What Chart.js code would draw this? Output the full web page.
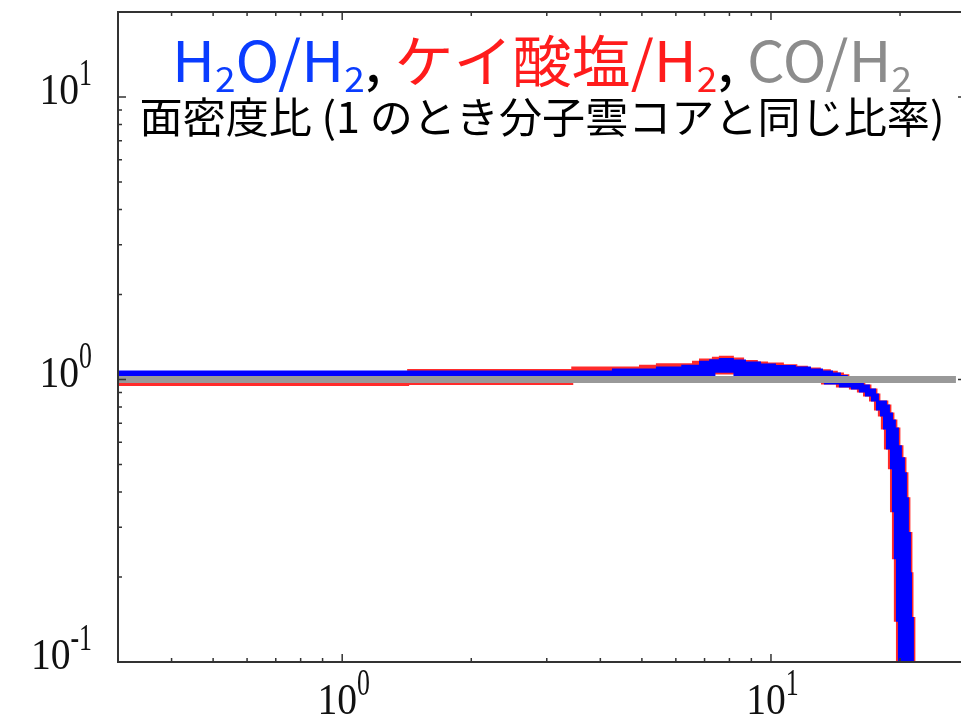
<!DOCTYPE html>
<html>
<head>
<meta charset="utf-8">
<script src="https://cdn.jsdelivr.net/npm/chart.js@4.4.1/dist/chart.umd.min.js"></script>
<style>
html, body { margin: 0; padding: 0; background: #fff; overflow: hidden; }
#wrap { position: relative; width: 968px; height: 718px; }
</style>
</head>
<body>
<div id="wrap"><canvas id="chart"></canvas></div>
<script>
// tick positions
const xMajorTicks = [1, 10];
const xMinorTicks = [0.3, 0.4, 0.5, 0.6, 0.7, 0.8, 0.9, 2, 3, 4, 5, 6, 7, 8, 9, 20];
const yMajorTicks = [0.1, 1, 10];
const yMinorTicks = [0.2, 0.3, 0.4, 0.5, 0.6, 0.7, 0.8, 0.9, 2, 3, 4, 5, 6, 7, 8, 9];

// title text
const titleParts = [
    ['H', 'h2o'], ['2', 'h2o', true], ['O/H', 'h2o'], ['2', 'h2o', true], [', ', 'ink'],
    ['ケイ酸塩/H', 'sil'], ['2', 'sil', true], [', ', 'ink'],
    ['CO/H', 'co'], ['2', 'co', true]
];
const subtitle = '面密度比 (1 のとき分子雲コアと同じ比率)';

// H2O/H2 band: upper and lower envelope (step values)
const h2oHiX = [0.29, 4.28, 5.42, 6.21, 6.83, 7.21, 7.60, 8.15, 8.70, 9.43, 10.22, 11.37, 12.33, 13.15, 13.88, 14.48, 15.03, 15.70, 16.38, 16.92, 17.48, 17.76, 18.54, 18.84, 19.15, 19.45, 19.77, 20.09, 20.42, 20.64, 20.86, 21.09, 21.21, 21.43];
const h2oHiY = [1.067, 1.085, 1.102, 1.118, 1.155, 1.170, 1.181, 1.167, 1.148, 1.130, 1.116, 1.102, 1.085, 1.067, 1.050, 1.029, 1.000, 0.976, 0.952, 0.922, 0.885, 0.836, 0.809, 0.758, 0.716, 0.671, 0.580, 0.526, 0.466, 0.380, 0.286, 0.206, 0.143, 0.05];
const h2oLoX = [0.29, 7.38, 8.22, 12.67, 13.36, 14.48, 15.45, 16.12, 16.65, 17.20, 17.67, 18.05, 18.35, 18.64, 19.05, 19.25, 19.45, 19.67, 19.88, 21.43];
const h2oLoY = [1.02, 1.065, 1.02, 0.984, 0.968, 0.945, 0.929, 0.907, 0.878, 0.843, 0.783, 0.746, 0.671, 0.570, 0.485, 0.342, 0.233, 0.140, 0.05, 0.05];

// silicate/H2 band
const silHiX = [0.29, 1.425, 3.44, 4.95, 5.42, 6.58, 6.83, 7.32, 7.60, 8.15, 8.61, 9.27, 9.79, 10.66, 11.46, 12.13, 13.0, 13.72, 14.24, 14.72, 15.15, 15.82, 16.51, 17.06, 17.62, 17.90, 18.68, 18.99, 19.30, 19.61, 19.93, 20.26, 20.59, 20.81, 21.03, 21.26, 21.38, 21.60];
const silHiY = [1.06, 1.08, 1.102, 1.118, 1.132, 1.155, 1.177, 1.193, 1.203, 1.186, 1.164, 1.148, 1.139, 1.123, 1.109, 1.094, 1.079, 1.065, 1.050, 1.036, 1.0, 0.976, 0.952, 0.922, 0.885, 0.836, 0.809, 0.758, 0.716, 0.671, 0.580, 0.526, 0.466, 0.380, 0.286, 0.206, 0.143, 0.05];
const silLoX = [0.29, 1.425, 3.44, 7.29, 8.34, 12.46, 13.15, 14.25, 15.28, 15.95, 16.48, 17.02, 17.48, 17.85, 18.14, 18.44, 18.84, 19.05, 19.25, 19.45, 19.67, 21.60];
const silLoY = [0.956, 0.964, 0.99, 1.05, 0.99, 0.984, 0.968, 0.945, 0.929, 0.907, 0.878, 0.843, 0.783, 0.746, 0.671, 0.570, 0.485, 0.342, 0.233, 0.140, 0.05, 0.05];

// CO/H2
const coX = [0.29, 27.0];
const coY = [1.0, 1.0];

const colors = { h2o: '#0000ff', sil: '#ff2b2b', co: '#999999', ink: '#000000' };
const textColors = { h2o: '#0a3cff', sil: '#ff1c1c', co: '#8c8c8c', ink: '#000000' };

const pts = (xs, ys) => xs.map((x, i) => ({ x, y: ys[i] }));

function band(data, color, width, fill) {
    return {
        data,
        borderColor: color,
        backgroundColor: color,
        borderWidth: width,
        stepped: 'before',
        pointRadius: 0,
        fill: fill
    };
}

function powerLabel(ctx, exp, anchorX, baseline, align) {
    const mainFont = '44px "Liberation Serif"';
    const supFont = '38px "Liberation Serif"';
    ctx.font = mainFont;
    const wm = ctx.measureText('10').width * 0.9;
    ctx.font = supFont;
    const ws = ctx.measureText(exp).width * 0.68;
    const left = align === 'center' ? anchorX - (wm + ws) / 2 : anchorX - wm - ws;
    ctx.save();
    ctx.translate(left, baseline);
    ctx.scale(0.9, 1);
    ctx.font = mainFont;
    ctx.fillText('10', 0, 0);
    ctx.restore();
    ctx.save();
    ctx.translate(left + wm, baseline - 19);
    ctx.scale(0.68, 1);
    ctx.font = supFont;
    ctx.fillText(exp, 0, 0);
    ctx.restore();
}

// draw a text run squeezed/stretched to a given width, centred on cx
function fitText(ctx, cx, width, draw, measure) {
    const natural = measure();
    ctx.save();
    ctx.translate(cx - width / 2, 0);
    ctx.scale(width / natural, 1);
    draw();
    ctx.restore();
}

const framePlugin = {
    id: 'frame',
    afterDraw(chart) {
        const { ctx, chartArea: a } = chart;
        const xs = chart.scales.x, ys = chart.scales.y;
        ctx.save();
        ctx.strokeStyle = '#333';
        ctx.lineWidth = 2;
        ctx.strokeRect(a.left, a.top, a.right - a.left, a.bottom - a.top);

        ctx.lineWidth = 1.5;
        ctx.beginPath();
        xs.ticks.forEach(t => {
            const px = xs.getPixelForValue(t.value);
            const len = t.major ? 8 : 4;
            ctx.moveTo(px, a.bottom); ctx.lineTo(px, a.bottom - len);
            ctx.moveTo(px, a.top); ctx.lineTo(px, a.top + len);
        });
        ys.ticks.forEach(t => {
            const py = ys.getPixelForValue(t.value);
            const len = t.major ? 8 : 4;
            ctx.moveTo(a.left, py); ctx.lineTo(a.left + len, py);
            ctx.moveTo(a.right, py); ctx.lineTo(a.right - len, py);
        });
        ctx.stroke();

        ctx.fillStyle = '#111';
        ctx.textBaseline = 'alphabetic';
        ctx.textAlign = 'left';
        xs.ticks.filter(t => t.major).forEach(t => {
            const exp = String(Math.round(Math.log10(t.value)));
            powerLabel(ctx, exp, xs.getPixelForValue(t.value) + 1.5, 714, 'center');
        });
        ys.ticks.filter(t => t.major).forEach(t => {
            const exp = String(Math.round(Math.log10(t.value)));
            powerLabel(ctx, exp, 92, ys.getPixelForValue(t.value) + 7, 'right');
        });

        // title, two lines, centred over the plot
        const cx = (a.left + a.right) / 2;
        const mainFont = '56px "Noto Sans CJK JP"';
        const subFont = '35px "Noto Sans CJK JP"';
        const partWidth = p => { ctx.font = p[2] ? subFont : mainFont; return ctx.measureText(p[0]).width; };
        fitText(ctx, cx, 740, () => {
            let x = 0;
            titleParts.forEach(p => {
                ctx.font = p[2] ? subFont : mainFont;
                ctx.fillStyle = textColors[p[1]];
                ctx.fillText(p[0], x, p[2] ? 92 : 82);
                x += ctx.measureText(p[0]).width;
            });
        }, () => titleParts.reduce((s, p) => s + partWidth(p), 0));

        ctx.font = '42px "Noto Sans CJK JP"';
        ctx.fillStyle = '#000';
        fitText(ctx, cx, 805, () => ctx.fillText(subtitle, 0, 133),
            () => ctx.measureText(subtitle).width);
        ctx.restore();
    }
};

new Chart(document.getElementById('chart'), {
    type: 'line',
    data: {
        datasets: [
            { data: pts(coX, coY), borderColor: colors.co, borderWidth: 7, pointRadius: 0, fill: false },
            band(pts(h2oHiX, h2oHiY), colors.h2o, 2, '+1'),
            band(pts(h2oLoX, h2oLoY), colors.h2o, 2, false),
            band(pts(silHiX, silHiY), colors.sil, 2, '+1'),
            band(pts(silLoX, silLoY), colors.sil, 2, false)
        ]
    },
    options: {
        responsive: true,
        maintainAspectRatio: false,
        animation: false,
        layout: { padding: { top: 12, right: 2, left: 0, bottom: 0 } },
        plugins: { legend: { display: false }, tooltip: { enabled: false } },
        scales: {
            x: {
                type: 'logarithmic',
                min: 0.3,
                max: 28.5,
                grid: { display: false },
                border: { display: false },
                ticks: { display: false },
                afterBuildTicks: s => {
                    s.ticks = xMajorTicks.map(v => ({ value: v, major: true }))
                        .concat(xMinorTicks.map(v => ({ value: v, major: false })));
                },
                afterFit: s => { s.height = 56; }
            },
            y: {
                type: 'logarithmic',
                min: 0.1,
                max: 20,
                grid: { display: false },
                border: { display: false },
                ticks: { display: false },
                afterBuildTicks: s => {
                    s.ticks = yMajorTicks.map(v => ({ value: v, major: true }))
                        .concat(yMinorTicks.map(v => ({ value: v, major: false })));
                },
                afterFit: s => { s.width = 118; }
            }
        }
    },
    plugins: [framePlugin]
});
</script>
</body>
</html>
